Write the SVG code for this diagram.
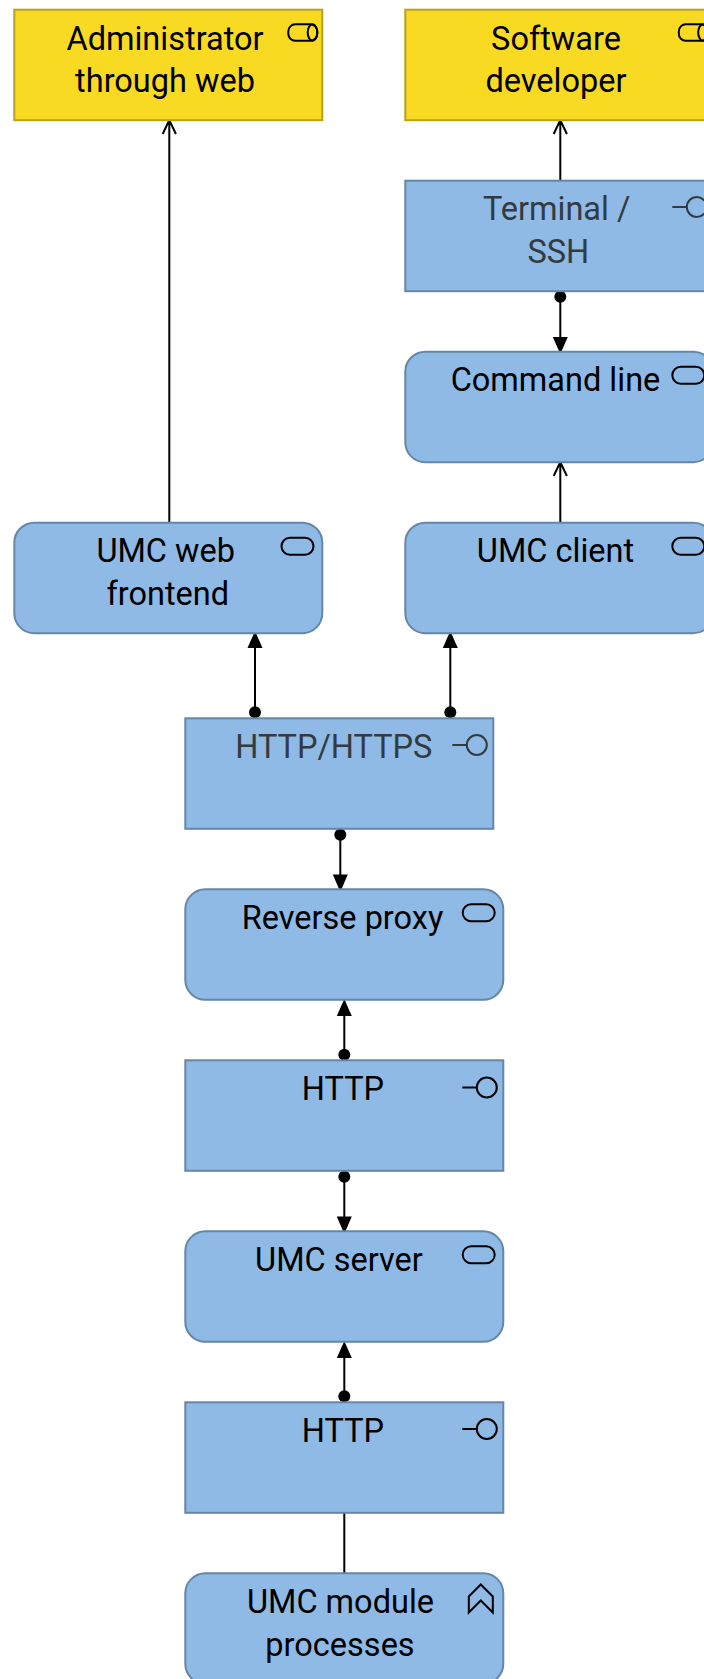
<svg xmlns="http://www.w3.org/2000/svg" width="704" height="1679" viewBox="0 0 704 1679">
<style>
text{font-family:Roboto,"Liberation Sans",sans-serif;font-size:32.500px;text-anchor:middle;fill:#000}
text.dim{fill:#333b40}
.actor{fill:#f9da22;stroke:#b8a21c;stroke-width:2}
.el{fill:#8ebae5;stroke:#6487a8;stroke-width:2}
.ic{fill:none;stroke:#000;stroke-width:2}
.icd{fill:none;stroke:#333b40;stroke-width:2}
.c{fill:none;stroke:#000;stroke-width:2}
.d{fill:#000}
</style>
<g id="connectors">
<path class="c" d="M169.300 523V121M162.700 134L169.300 120L175.900 134"/>
<path class="c" d="M560.300 181V121M553.700 134L560.300 120L566.900 134"/>
<path class="c" d="M560.300 297V340"/><circle class="d" cx="560.300" cy="296.700" r="6"/><path class="d" d="M552.800 337h15l-7.500 17z"/>
<path class="c" d="M560.300 523V463M553.700 476L560.300 462L566.900 476"/>
<path class="c" d="M255 712V645"/><circle class="d" cx="255" cy="712.300" r="6"/><path class="d" d="M247.500 648h15l-7.500-17z"/>
<path class="c" d="M450.300 712V645"/><circle class="d" cx="450.300" cy="712.300" r="6"/><path class="d" d="M442.800 648h15l-7.500-17z"/>
<path class="c" d="M340.300 835V878"/><circle class="d" cx="340.300" cy="834.700" r="6"/><path class="d" d="M332.800 874.500h15l-7.500 17.500z"/>
<path class="c" d="M344.300 1055V1015"/><circle class="d" cx="344.300" cy="1054.700" r="6"/><path class="d" d="M336.800 1016h15l-7.500-17z"/>
<path class="c" d="M344.300 1177V1220"/><circle class="d" cx="344.300" cy="1176.700" r="6"/><path class="d" d="M336.800 1216.500h15l-7.500 17.500z"/>
<path class="c" d="M344.300 1397V1355"/><circle class="d" cx="344.300" cy="1396.300" r="6"/><path class="d" d="M336.800 1358h15l-7.500-17z"/>
<path class="c" d="M344.300 1513V1574"/>
</g>
<g id="actor-admin"><rect class="actor" x="14.300" y="9.700" width="308" height="110.500"/><text x="165" y="49.500">Administrator</text><text x="165" y="92">through web</text><rect class="ic" x="288.300" y="24.300" width="29" height="16.500" rx="7"/><ellipse class="ic" cx="312.500" cy="32.500" rx="4.800" ry="8.300"/></g>
<g id="actor-dev"><rect class="actor" x="405.300" y="9.700" width="308" height="110.500"/><text x="556" y="49.500">Software</text><text x="556" y="92">developer</text><rect class="ic" x="678.800" y="24.300" width="29" height="16.500" rx="7"/><ellipse class="ic" cx="703" cy="32.500" rx="4.800" ry="8.300"/></g>
<g id="terminal"><rect class="el" x="405.300" y="180.700" width="308" height="110.500"/><text class="dim" x="556.700" y="220">Terminal /</text><text class="dim" x="558.300" y="263">SSH</text><path class="icd" d="M672.300 207h14"/><circle class="icd" cx="696.800" cy="207" r="10"/></g>
<g id="command-line"><rect class="el" x="405.300" y="351.700" width="308" height="110.500" rx="20"/><text x="555.500" y="391">Command line</text><rect class="ic" x="672.300" y="366.700" width="32" height="17" rx="8.500"/></g>
<g id="umc-client"><rect class="el" x="405.300" y="522.700" width="308" height="110.500" rx="20"/><text x="555.500" y="562">UMC client</text><rect class="ic" x="672.300" y="537.700" width="32" height="17" rx="8.500"/></g>
<g id="umc-web"><rect class="el" x="14.300" y="522.700" width="308" height="110.500" rx="20"/><text x="165.700" y="562">UMC web</text><text x="167.800" y="605">frontend</text><rect class="ic" x="281.500" y="537.700" width="32" height="17" rx="8.500"/></g>
<g id="http-https"><rect class="el" x="185.300" y="718.300" width="308" height="110.500"/><text class="dim" x="333.800" y="758">HTTP/HTTPS</text><path class="icd" d="M452.300 745h14"/><circle class="icd" cx="476.800" cy="745" r="10"/></g>
<g id="reverse-proxy"><rect class="el" x="185.300" y="889.300" width="318" height="110.500" rx="20"/><text x="342.500" y="929">Reverse proxy</text><rect class="ic" x="462.700" y="904.300" width="32" height="17" rx="8.500"/></g>
<g id="http-1"><rect class="el" x="185.300" y="1060.300" width="318" height="110.500"/><text x="343" y="1100">HTTP</text><path class="ic" d="M462.300 1087.500h14"/><circle class="ic" cx="486.800" cy="1087.500" r="10"/></g>
<g id="umc-server"><rect class="el" x="185.300" y="1231.300" width="318" height="110.500" rx="20"/><text x="339" y="1271">UMC server</text><rect class="ic" x="462.700" y="1246.300" width="32" height="17" rx="8.500"/></g>
<g id="http-2"><rect class="el" x="185.300" y="1402.300" width="318" height="110.500"/><text x="343" y="1442">HTTP</text><path class="ic" d="M462.300 1429h14"/><circle class="ic" cx="486.800" cy="1429" r="10"/></g>
<g id="umc-module"><rect class="el" x="185.300" y="1573.300" width="318" height="110.500" rx="20"/><text x="340.500" y="1613">UMC module</text><text x="340" y="1655.500">processes</text><path class="ic" d="M468.800 1596.500L480.800 1584.500L492.800 1596.500V1612.500L480.800 1600.500L468.800 1612.500Z"/></g>
</svg>
